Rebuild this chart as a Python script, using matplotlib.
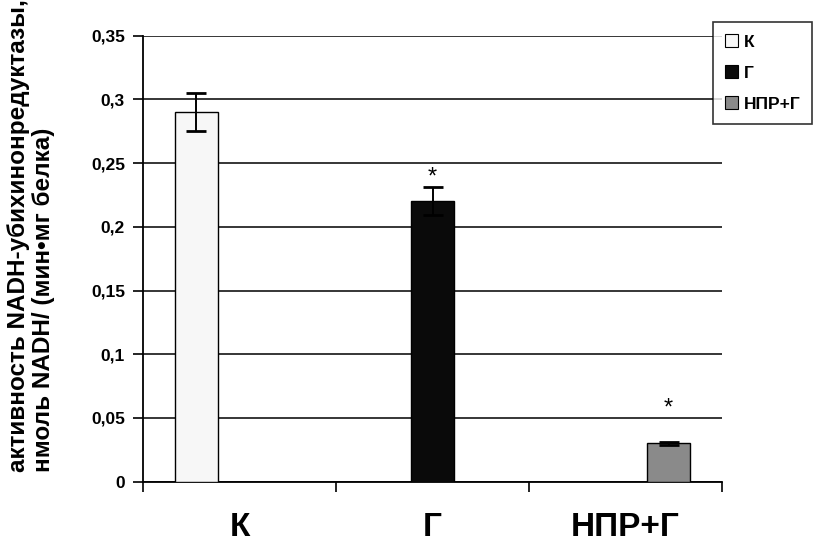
import numpy as np
import matplotlib
matplotlib.use("Agg")
import matplotlib.pyplot as plt
from matplotlib.patches import Patch

plt.rcParams['font.family'] = ['Liberation Sans', 'DejaVu Sans']

categories = ['К', 'Г', 'НПР+Г']
series = ['К', 'Г', 'НПР+Г']
# one bar per group, other series empty
values = {
    'К': [0.29, np.nan, np.nan],
    'Г': [np.nan, 0.22, np.nan],
    'НПР+Г': [np.nan, np.nan, 0.03],
}
errors = {
    'К': [0.015, np.nan, np.nan],
    'Г': [np.nan, 0.011, np.nan],
    'НПР+Г': [np.nan, np.nan, 0.001],
}
# height of the significance star (nan = none)
star_y = {'К': [np.nan, np.nan, np.nan], 'Г': [np.nan, 0.234, np.nan], 'НПР+Г': [np.nan, np.nan, 0.053]}
colors = {'К': '#f7f7f7', 'Г': '#0a0a0a', 'НПР+Г': '#8a8a8a'}
yticks = [0, 0.05, 0.1, 0.15, 0.2, 0.25, 0.3, 0.35]
ytick_labels = ['0', '0,05', '0,1', '0,15', '0,2', '0,25', '0,3', '0,35']

fig = plt.figure(figsize=(8.26, 5.56), dpi=100)
ax = fig.add_axes([143/826, 1 - 481.6/556, (722 - 143)/826, (481.6 - 35.7)/556])

x = np.arange(len(categories))
w = 0.223
for i, s in enumerate(series):
    pos = x + (i - 1) * w
    ax.bar(pos, values[s], width=w, color=colors[s], edgecolor='black', linewidth=1, zorder=3)
    ax.errorbar(pos, values[s], yerr=errors[s], fmt='none', ecolor='black',
                elinewidth=1.4, capsize=7, capthick=2, zorder=4)
    for j in range(len(categories)):
        if not np.isnan(star_y[s][j]):
            ax.text(pos[j], star_y[s][j], '*', ha='center', va='baseline',
                    fontsize=17, zorder=3.5)

ax.set_xlim(-0.5, 2.5)
ax.set_ylim(0, 0.35)
ax.set_yticks(yticks)
ax.set_yticklabels(ytick_labels, fontsize=12.5, fontweight='bold')
ax.yaxis.grid(True, color='black', linewidth=1.1)
ax.set_axisbelow(True)

ax.set_xticks(x)
ax.set_xticklabels(categories, fontsize=24, fontweight='bold')
ax.set_xticks(np.arange(len(categories) + 1) - 0.5, minor=True)
ax.tick_params(axis='x', which='major', length=0, pad=22)
ax.tick_params(axis='x', which='minor', length=7, width=1.2, direction='out')
ax.tick_params(axis='y', length=7, width=1.2, direction='out', pad=6)

ax.spines['top'].set_visible(False)
ax.spines['right'].set_visible(False)
for sp in ['left', 'bottom']:
    ax.spines[sp].set_linewidth(1.3)

fig.text(31/826, 1 - 472/556,
         'активность NADH-убихинонредуктазы,\nнмоль NADH/ (мин•мг белка)',
         rotation=90, ha='center', va='bottom', multialignment='left',
         fontsize=17.5, fontweight='bold', linespacing=1.15)

handles = [Patch(facecolor=colors[s], edgecolor='black', linewidth=0.8) for s in series]
leg = fig.legend(handles, series, loc='upper left', bbox_to_anchor=(713/826, 1 - 22/556),
                 frameon=True, fancybox=False, edgecolor='black',
                 prop={'size': 12.5, 'weight': 'bold'},
                 handlelength=0.75, handleheight=0.75, handletextpad=0.3,
                 labelspacing=0.9, borderpad=0.7, borderaxespad=0)
leg.get_frame().set_linewidth(1.2)

fig.savefig('out.png', dpi=100)
